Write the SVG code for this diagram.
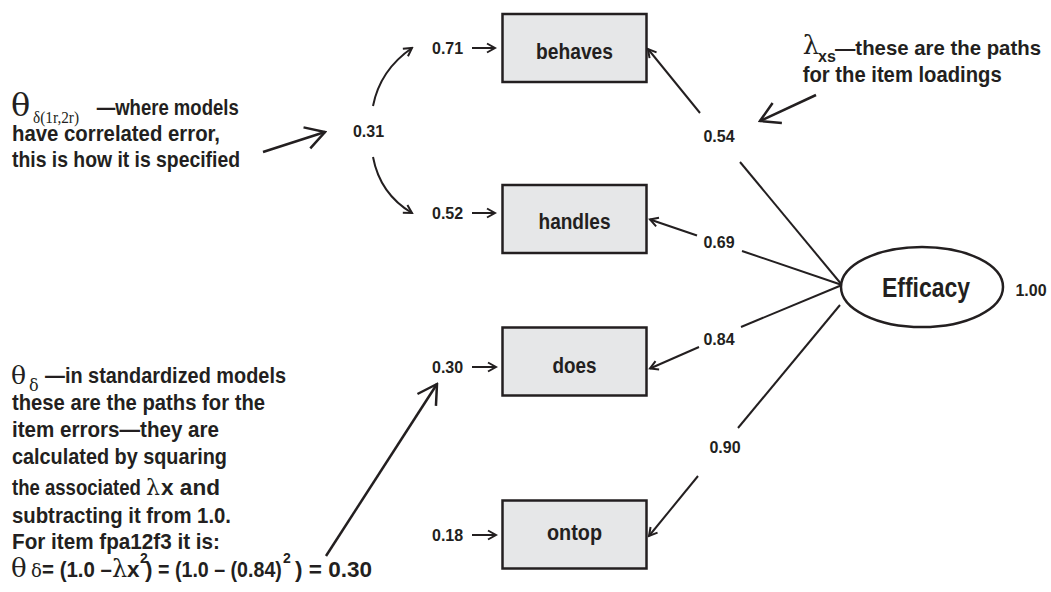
<svg xmlns="http://www.w3.org/2000/svg" width="1051" height="592" viewBox="0 0 1051 592">
<style>
.box{fill:#e6e7e8;stroke:#231f20;stroke-width:2.5}
.ell{fill:#ffffff;stroke:#231f20;stroke-width:2.5}
.sans{font-family:'Liberation Sans',Arial,sans-serif;font-weight:700;fill:#231f20}
.lbl{font-size:22px;text-anchor:middle}
.num{font-size:16px}
.mid{text-anchor:middle}
.ann{font-size:22.5px}
.ser{font-family:'Liberation Serif','DejaVu Serif',serif;font-weight:400;fill:#231f20}
.grk{font-family:'DejaVu Serif','Liberation Serif',serif;font-weight:400;fill:#231f20}
.conn{stroke:#231f20;stroke-width:2;fill:none}
.call{stroke:#231f20;stroke-width:2.5;fill:none}
</style>
<defs>
<marker id="sm" viewBox="-10 -7 12 14" refX="0" refY="0" markerWidth="12" markerHeight="14" markerUnits="userSpaceOnUse" orient="auto">
<path d="M-8,-4.5 L0,0 L-8,4.5" fill="none" stroke="#231f20" stroke-width="2"/>
</marker>
<marker id="big" viewBox="-22 -13 24 26" refX="0" refY="0" markerWidth="24" markerHeight="26" markerUnits="userSpaceOnUse" orient="auto">
<path d="M-19,-11 L0,0 L-19,11" fill="none" stroke="#231f20" stroke-width="2.5"/>
</marker>
</defs>
<rect width="1051" height="592" fill="#ffffff"/>

<g id="connectors">
<line class="conn" x1="472" y1="48" x2="495" y2="48" marker-end="url(#sm)"/>
<line class="conn" x1="472" y1="213" x2="495" y2="213" marker-end="url(#sm)"/>
<line class="conn" x1="472" y1="367" x2="496" y2="367" marker-end="url(#sm)"/>
<line class="conn" x1="472" y1="535" x2="496" y2="535" marker-end="url(#sm)"/>
<path class="conn" d="M373,106 Q380,70 412,48" marker-end="url(#sm)"/>
<path class="conn" d="M373,157 Q380,194 412,213" marker-end="url(#sm)"/>
<line class="conn" x1="842" y1="285" x2="740" y2="162"/>
<line class="conn" x1="700" y1="113" x2="648" y2="49" marker-end="url(#sm)"/>
<line class="conn" x1="842" y1="285" x2="742" y2="251"/>
<line class="conn" x1="697" y1="235.5" x2="650" y2="219.5" marker-end="url(#sm)"/>
<line class="conn" x1="842" y1="285" x2="741" y2="327"/>
<line class="conn" x1="699" y1="347" x2="650" y2="368.5" marker-end="url(#sm)"/>
<line class="conn" x1="840" y1="305" x2="738" y2="428"/>
<line class="conn" x1="698" y1="476" x2="649" y2="536" marker-end="url(#sm)"/>
<line class="call" x1="263" y1="152" x2="325" y2="132" marker-end="url(#big)"/>
<line class="call" x1="816" y1="95" x2="760" y2="121" marker-end="url(#big)"/>
<line class="call" x1="326" y1="556" x2="437" y2="384" marker-end="url(#big)"/>
</g>

<g id="node-behaves">
<rect class="box" x="502.5" y="14" width="144" height="68"/>
<text class="sans lbl" x="574.5" y="58.5" textLength="77" lengthAdjust="spacingAndGlyphs">behaves</text>
</g>
<g id="node-handles">
<rect class="box" x="502.5" y="185" width="144" height="68"/>
<text class="sans lbl" x="574.5" y="228.5" textLength="72" lengthAdjust="spacingAndGlyphs">handles</text>
</g>
<g id="node-does">
<rect class="box" x="502.5" y="327.5" width="144" height="68"/>
<text class="sans lbl" x="574.5" y="373" textLength="44" lengthAdjust="spacingAndGlyphs">does</text>
</g>
<g id="node-ontop">
<rect class="box" x="502.5" y="500.5" width="144" height="68"/>
<text class="sans lbl" x="574.5" y="540" textLength="55" lengthAdjust="spacingAndGlyphs">ontop</text>
</g>
<g id="node-efficacy">
<ellipse class="ell" cx="922" cy="287" rx="81" ry="40"/>
<text class="sans mid" x="926" y="297" font-size="27" textLength="88" lengthAdjust="spacingAndGlyphs">Efficacy</text>
</g>

<g id="labels">
<text class="sans num" x="432" y="53.5">0.71</text>
<text class="sans num" x="432" y="219">0.52</text>
<text class="sans num" x="432" y="373">0.30</text>
<text class="sans num" x="432" y="540.5">0.18</text>
<text class="sans num mid" x="368.5" y="136.5">0.31</text>
<text class="sans num mid" x="719" y="142">0.54</text>
<text class="sans num mid" x="719" y="248">0.69</text>
<text class="sans num mid" x="719" y="345">0.84</text>
<text class="sans num mid" x="725" y="453">0.90</text>
<text class="sans num mid" x="1031" y="296">1.00</text>
</g>

<g id="note-correlated-error">
<text class="grk" x="11" y="116" font-size="32">θ</text>
<text class="ser" x="33" y="123" font-size="16" textLength="46" lengthAdjust="spacingAndGlyphs">δ(1r,2r)</text>
<text class="sans ann" x="96.7" y="115" textLength="142" lengthAdjust="spacingAndGlyphs">—where models</text>
<text class="sans ann" x="12" y="141" textLength="208" lengthAdjust="spacingAndGlyphs">have correlated error,</text>
<text class="sans ann" x="12" y="167" textLength="228" lengthAdjust="spacingAndGlyphs">this is how it is specified</text>
</g>

<g id="note-loadings">
<text class="grk" x="802.7" y="53.5" font-size="26">λ</text>
<text class="sans" x="818" y="62" font-size="16">xs</text>
<text class="sans" x="835" y="55" font-size="21" textLength="206" lengthAdjust="spacingAndGlyphs">—these are the paths</text>
<text class="sans ann" x="802.7" y="81.5" textLength="199" lengthAdjust="spacingAndGlyphs">for the item loadings</text>
</g>

<g id="note-errors">
<text class="grk" x="11" y="384" font-size="25">θ</text>
<text class="grk" x="29" y="391" font-size="16">δ</text>
<text class="sans ann" x="45" y="383" textLength="241" lengthAdjust="spacingAndGlyphs">—in standardized models</text>
<text class="sans ann" x="12" y="410" textLength="253" lengthAdjust="spacingAndGlyphs">these are the paths for the</text>
<text class="sans ann" x="12" y="437" textLength="207" lengthAdjust="spacingAndGlyphs">item errors—they are</text>
<text class="sans ann" x="12" y="464" textLength="215" lengthAdjust="spacingAndGlyphs">calculated by squaring</text>
<text class="sans ann" x="0" y="0" transform="matrix(0.825 0 0 1 12 495)">the associated</text>
<text class="grk" x="146" y="495" font-size="22">λ</text>
<text class="sans ann" x="161" y="495" textLength="59" lengthAdjust="spacingAndGlyphs">x and</text>
<text class="sans ann" x="12" y="523" textLength="219" lengthAdjust="spacingAndGlyphs">subtracting it from 1.0.</text>
<text class="sans ann" x="12" y="549" textLength="208" lengthAdjust="spacingAndGlyphs">For item fpa12f3 it is:</text>
<text class="grk" x="11" y="577" font-size="26">θ</text>
<text class="grk" x="31" y="577" font-size="18">δ</text>
<text class="sans ann" x="0" y="0" transform="matrix(0.91 0 0 1 42 577)">= (1.0 –</text>
<text class="grk" x="112" y="577" font-size="24">λ</text>
<text class="sans ann" x="127" y="577">x</text>
<text class="sans" x="140" y="563" font-size="14">2</text>
<text class="sans ann" x="145" y="577">)</text>
<text class="sans ann" x="0" y="0" transform="matrix(0.873 0 0 1 158 577)">= (1.0 – (0.84)</text>
<text class="sans" x="283" y="563" font-size="14">2</text>
<text class="sans ann" x="295" y="577">) = 0.30</text>
</g>
</svg>
